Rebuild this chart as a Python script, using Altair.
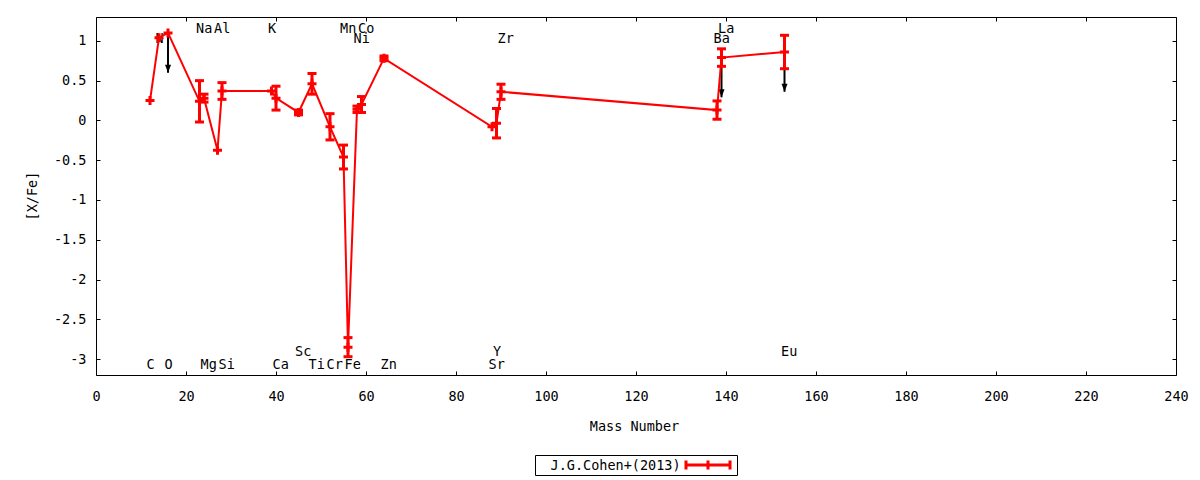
import altair as alt
import pandas as pd

# ---- data ----
series_name = "J.G.Cohen+(2013)"
elements = ["C", "N", "O", "Na", "Mg", "Al", "Si", "K", "Ca", "Sc", "Ti", "Cr",
            "Mn", "Fe", "Ni", "Co", "Zn", "Sr", "Y", "Zr", "Ba", "La", "Eu"]
mass_number = [12, 14, 16, 23, 24, 27, 28, 39, 40, 45, 48, 52,
               55, 56, 58, 59, 64, 88, 89, 90, 138, 139, 153]
x_fe = [0.25, 1.04, 1.10, 0.24, 0.28, -0.375, 0.37, 0.37, 0.28, 0.10, 0.46, -0.08,
        -0.46, -2.85, 0.14, 0.20, 0.78, -0.08, -0.035, 0.36, 0.13, 0.79, 0.86]
x_fe_err = [0.0, 0.0, 0.0, 0.26, 0.05, 0.0, 0.105, 0.0, 0.15, 0.03, 0.13, 0.165,
            0.15, 0.12, 0.04, 0.10, 0.03, 0.0, 0.185, 0.095, 0.115, 0.11, 0.21]
upper_limit = [False, False, True, False, False, False, False, False, False, False, False, False,
               False, False, False, False, False, False, False, False, False, True, True]

# element labels: row 0/1 = top rows, row 2/3 = bottom rows
label_row = [3, 1, 3, 0, 3, 0, 3, 0, 3, 2, 3, 3,
             0, 3, 1, 0, 3, 3, 2, 1, 1, 0, 2]

x_ticks = [0, 20, 40, 60, 80, 100, 120, 140, 160, 180, 200, 220, 240]
y_ticks = [-3, -2.5, -2, -1.5, -1, -0.5, 0, 0.5, 1]

df = pd.DataFrame({
    "el": elements, "A": mass_number, "val": x_fe, "err": x_fe_err,
    "lim": upper_limit, "order": list(range(len(elements))),
})
df["lo"] = df["val"] - df["err"]
df["hi"] = df["val"] + df["err"]
labels = pd.DataFrame({"el": elements, "A": mass_number, "row": label_row})
legend_df = pd.DataFrame({"series": [series_name]})

FONT = "DejaVu Sans Mono"
FS = 13.5
RED = "#ff0000"
W, H = 1080, 358

xscale = alt.Scale(domain=[0, 240], nice=False, zero=False)
yscale = alt.Scale(domain=[-3.2, 1.3], nice=False, zero=False)

x_main = alt.X("A:Q", scale=xscale, axis=alt.Axis(
    orient="bottom", values=x_ticks, offset=-4, tickSize=4, domain=False, grid=False,
    labelPadding=14, labelFlush=False, labelOverlap=False, labelExpr="'' + datum.value",
    title="Mass Number", titleX=538, titleY=59, titleBaseline="alphabetic",
    titleAlign="center", titleAnchor="start"))
y_main = alt.Y("val:Q", scale=yscale, axis=alt.Axis(
    orient="left", values=y_ticks, offset=-4, tickSize=4, domain=False, grid=False,
    labelPadding=10, labelFlush=False, labelOverlap=False, labelExpr="'' + datum.value",
    title="[X/Fe]", titleX=-64, titleY=178.5, titleBaseline="alphabetic",
    titleAngle=270, titleAlign="center", titleAnchor="start"))

x_plain = alt.X("A:Q", scale=xscale, axis=None)
y_plain = alt.Y("val:Q", scale=yscale, axis=None)

base = alt.Chart(df)

# element name labels
row_px = [15.7, 26.3, 339.0, 352.3]
label_layers = []
for r, py in enumerate(row_px):
    label_layers.append(
        alt.Chart(labels).transform_filter(alt.datum.row == r).mark_text(
            align="left", baseline="alphabetic", dx=-3.5, font=FONT, fontSize=FS, color="black"
        ).encode(x=x_plain, y=alt.value(py), text="el:N")
    )

# upper-limit arrows
arrows = base.transform_filter(alt.datum.lim == True).transform_calculate(
    tip="datum.val - 0.5"
).mark_rule(color="black", strokeWidth=2).encode(
    x=x_plain, y=y_plain, y2="tip:Q")
arrow_heads = base.transform_filter(alt.datum.lim == True).transform_calculate(
    tip="datum.val - 0.5"
).mark_point(shape="M-0.375,-1L0.375,-1L0,0Z", size=256, filled=True,
             color="black", opacity=1, strokeWidth=0).encode(
    x=x_plain, y=alt.Y("tip:Q", scale=yscale, axis=None))

line = base.mark_line(color=RED, strokeWidth=2).encode(
    x=x_main, y=y_main, order="order:Q")

err_rules = base.transform_filter(alt.datum.err > 0).mark_rule(
    color=RED, strokeWidth=3).encode(
    x=x_plain, y=alt.Y("lo:Q", scale=yscale, axis=None), y2="hi:Q")
cap_lo = base.transform_filter(alt.datum.err > 0).mark_point(
    shape="M-1,0H1", size=81, filled=False, color=RED, strokeWidth=3, opacity=1).encode(
    x=x_plain, y=alt.Y("lo:Q", scale=yscale, axis=None))
cap_hi = base.transform_filter(alt.datum.err > 0).mark_point(
    shape="M-1,0H1", size=81, filled=False, color=RED, strokeWidth=3, opacity=1).encode(
    x=x_plain, y=alt.Y("hi:Q", scale=yscale, axis=None))
points = base.mark_point(
    shape="M-1,0H1M0,-1V1", size=81, filled=False, color=RED, strokeWidth=3, opacity=1).encode(
    x=x_plain, y=y_plain)

# mirrored ticks on top and right
mirror = base.mark_point(opacity=0).encode(
    x=alt.X("A:Q", scale=xscale, axis=alt.Axis(
        orient="top", values=x_ticks, offset=-4, tickSize=4, domain=False, grid=False,
        labels=False, title="")),
    y=alt.Y("val:Q", scale=yscale, axis=alt.Axis(
        orient="right", values=y_ticks, offset=-4, tickSize=4, domain=False, grid=False,
        labels=False, title="")))

# legend box
leg = alt.Chart(legend_df)
leg_box = leg.mark_rect(fill="white", stroke="black", strokeWidth=1).encode(
    x=alt.value(439.5), x2=alt.value(641.5), y=alt.value(438.5), y2=alt.value(458.5))
leg_text = leg.mark_text(align="left", baseline="alphabetic", font=FONT, fontSize=FS,
                         color="black").encode(
    x=alt.value(454.5), y=alt.value(453), text="series:N")
leg_sym = leg.mark_point(shape="M-1,0H1M-1,-0.2V0.2M0,-0.2V0.2M1,-0.2V0.2", size=1936,
                         filled=False, color=RED, strokeWidth=3, opacity=1).encode(
    x=alt.value(612), y=alt.value(448))

chart = alt.layer(
    *label_layers, arrows, arrow_heads, line, err_rules, cap_lo, cap_hi, points, mirror,
    leg_box, leg_text, leg_sym
).resolve_axis(x="independent", y="independent").properties(
    width=W, height=H,
    autosize=alt.AutoSizeParams(type="none"),
    padding={"left": 88, "top": 9, "right": 16, "bottom": 101},
    background="white",
).configure_view(stroke="black", strokeWidth=1).configure_axis(
    labelFont=FONT, labelFontSize=FS, labelColor="black",
    titleFont=FONT, titleFontSize=FS, titleFontWeight="normal", titleColor="black",
    tickColor="black", tickWidth=1,
)

chart.save("out.html", embed_options={"renderer": "svg", "actions": False})
